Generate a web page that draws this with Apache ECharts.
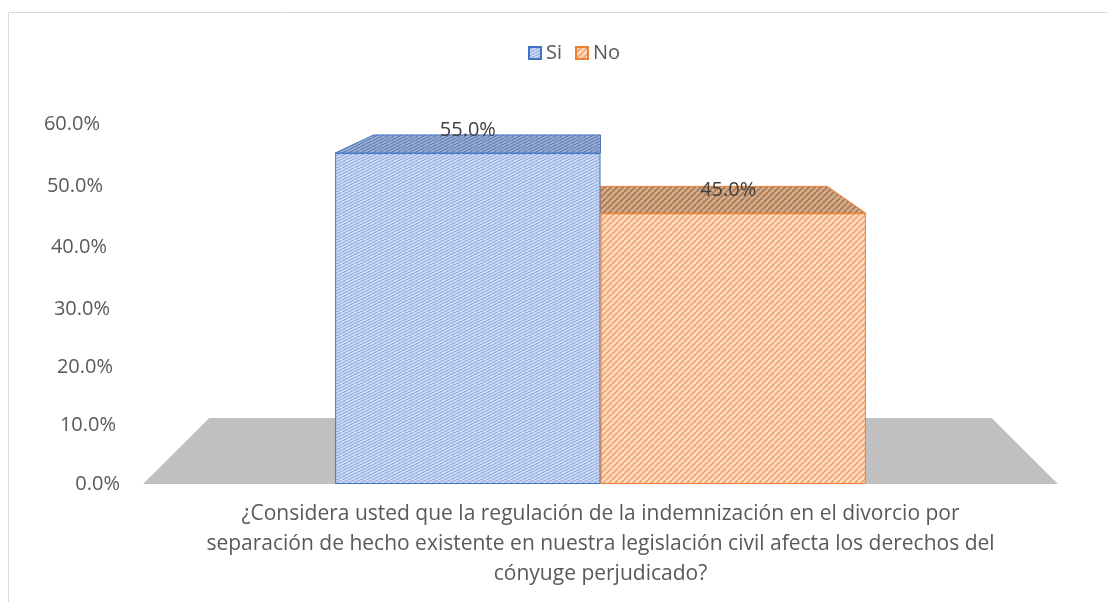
<!DOCTYPE html>
<html><head><meta charset="utf-8">
<script src="https://cdn.jsdelivr.net/npm/echarts@6/dist/echarts.min.js"></script>
<style>html,body{margin:0;padding:0;background:#fff}#c{width:1108px;height:602px}</style>
</head><body><div id="c"></div><script>
// ---- data ----
const categories = ['¿Considera usted que la regulación de la indemnización en el divorcio por\nseparación de hecho existente en nuestra legislación civil afecta los derechos del\ncónyuge perjudicado?'];
const seriesNames = ['Si', 'No'];
const siValues = [55.0];
const noValues = [45.0];
const yTicks = [0, 10, 20, 30, 40, 50, 60];

// ---- styling helpers ----
const FONT = "'Open Sans', sans-serif";
const TXT = '#595959';
const GAP = 0.42;      // barCategoryGap
const S = 0.145;       // perspective depth factor
const EYE = 95;        // vanishing point above grid top

function hatch(bg, fg, w, h, lw) {
  const c = document.createElement('canvas'); c.width = w; c.height = h;
  const g = c.getContext('2d'); g.fillStyle = bg; g.fillRect(0, 0, w, h);
  g.strokeStyle = fg; g.lineWidth = lw;
  for (const dx of [-w, 0, w]) { g.beginPath(); g.moveTo(dx, h); g.lineTo(dx + w, 0); g.stroke(); }
  return { image: c, repeat: 'repeat' };
}
const blueFront = hatch('#ccdaf3', '#86a3da', 6, 3, 1);
const orangeFront = hatch('#fcdcc4', '#f3a66e', 6, 6, 1.8);
const blueTop = hatch('#98abd2', '#5b77ad', 6, 3, 1);
const orangeTop = hatch('#d6ad8b', '#a97a55', 6, 6, 1.8);

// per-tick label shift [right padding, down shift] to mimic perspective
const tickShift = {0: [0, 0], 10: [4, 1], 20: [7, 4], 30: [10, 6], 40: [13, 4], 50: [17, 3], 60: [20, 1]};
const rich = {};
yTicks.forEach(v => {
  const [pr, dy] = tickShift[v];
  rich['t' + v] = {
    fontSize: 20, fontFamily: FONT, color: TXT,
    padding: [dy > 0 ? 2 * dy : 0, pr, dy < 0 ? -2 * dy : 0, 0]
  };
});

function backPt(p, cs) {
  const vp = [cs.x + cs.width / 2, cs.y - EYE];
  return [vp[0] + (1 - S) * (p[0] - vp[0]), vp[1] + (1 - S) * (p[1] - vp[1])];
}
function topFace(which, fill, stroke) {
  return function (params, api) {
    const cs = params.coordSys;
    const band = api.size([1, 0])[0];
    const bw = band * (1 - GAP) / 2;
    const c = api.coord([api.value(0), api.value(1)]);
    const xl = which === 0 ? c[0] - bw : c[0];
    const xr = xl + bw;
    const pts = [[xl, c[1]], [xr, c[1]], backPt([xr, c[1]], cs), backPt([xl, c[1]], cs)];
    return { type: 'polygon', shape: { points: pts }, style: { fill: fill, stroke: stroke, lineWidth: 1 } };
  };
}
function floor(params, api) {
  const cs = params.coordSys;
  const y0 = api.coord([0, 0])[1];
  const a = [cs.x, y0], b = [cs.x + cs.width, y0];
  return { type: 'polygon', shape: { points: [a, b, backPt(b, cs), backPt(a, cs)] }, style: { fill: '#c0c0c0' } };
}

const chart = echarts.init(document.getElementById('c'), null, { renderer: 'canvas' });
chart.setOption({
  animation: false,
  backgroundColor: '#fff',
  textStyle: { fontFamily: FONT },
  graphic: [{ type: 'rect', shape: { x: 8.5, y: 12.5, width: 1200, height: 700 }, style: { fill: 'none', stroke: '#d9d9d9', lineWidth: 1 }, silent: true }],
  legend: {
    data: seriesNames, left: 523, top: 38, itemWidth: 12, itemHeight: 12, itemGap: 13,
    icon: 'rect', textStyle: { fontSize: 20, color: TXT, fontFamily: FONT }
  },
  grid: { left: 143, right: 50, top: 123, bottom: 118 },
  xAxis: {
    type: 'category', data: categories,
    axisLine: { show: false }, axisTick: { show: false },
    axisLabel: { margin: 15, fontSize: 21, lineHeight: 30, color: TXT, fontFamily: FONT, interval: 0 }
  },
  yAxis: {
    type: 'value', min: 0, max: 60, interval: 10,
    splitLine: { show: false }, axisLine: { show: false }, axisTick: { show: false },
    axisLabel: { margin: 23, formatter: v => '{t' + v + '|' + v.toFixed(1) + '%}', rich: rich }
  },
  series: [
    { type: 'custom', silent: true, z: 0, data: [[0, 0]], renderItem: floor, tooltip: { show: false } },
    { type: 'custom', silent: true, z: 1, data: siValues.map((v, i) => [i, v]), renderItem: topFace(0, blueTop, '#4472c4') },
    { type: 'custom', silent: true, z: 1, data: noValues.map((v, i) => [i, v]), renderItem: topFace(1, orangeTop, '#ed7d31') },
    {
      name: seriesNames[0], type: 'bar', z: 2, data: siValues, barGap: 0, barCategoryGap: (GAP * 100) + '%',
      itemStyle: { color: blueFront, borderColor: '#4472c4', borderWidth: 1 },
      label: { show: true, position: 'top', distance: 13, formatter: p => p.value.toFixed(1) + '%', fontSize: 20, color: '#404040', fontFamily: FONT }
    },
    {
      name: seriesNames[1], type: 'bar', z: 2, data: noValues, barGap: 0, barCategoryGap: (GAP * 100) + '%',
      itemStyle: { color: orangeFront, borderColor: '#ed7d31', borderWidth: 1 },
      label: { show: true, position: 'top', distance: 13, offset: [-5, 0], formatter: p => p.value.toFixed(1) + '%', fontSize: 20, color: '#404040', fontFamily: FONT }
    }
  ]
});
</script></body></html>
